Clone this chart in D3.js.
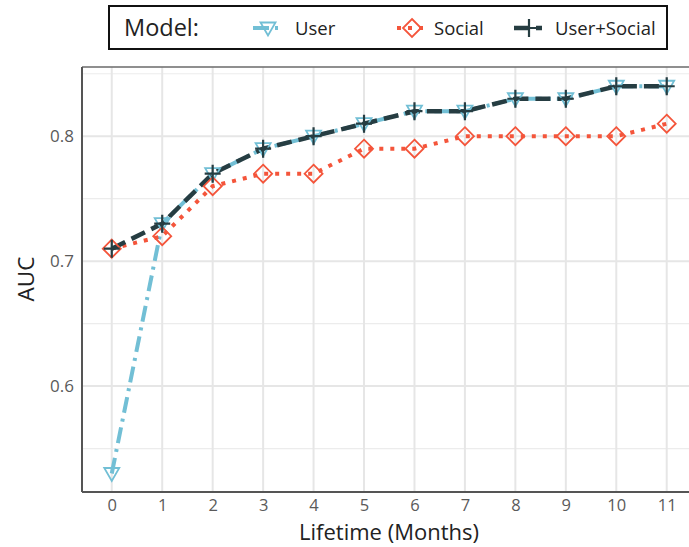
<!DOCTYPE html>
<html><head><meta charset="utf-8">
<script src="https://cdn.jsdelivr.net/npm/d3@7"></script>
<style>body{margin:0;background:#fff}svg{display:block;font-family:"Open Sans","Noto Sans",sans-serif}</style>
</head><body>
<svg id="c" width="689" height="547"></svg>
<script>
const months = [0,1,2,3,4,5,6,7,8,9,10,11];
const userAUC = [0.53,0.73,0.77,0.79,0.80,0.81,0.82,0.82,0.83,0.83,0.84,0.84];
const socialAUC = [0.71,0.72,0.76,0.77,0.77,0.79,0.79,0.80,0.80,0.80,0.80,0.81];
const userSocialAUC = [0.71,0.73,0.77,0.79,0.80,0.81,0.82,0.82,0.83,0.83,0.84,0.84];
const yTicks = [0.6,0.7,0.8];
const yMinor = [0.55,0.65,0.75,0.85];
const seriesNames = ["User","Social","User+Social"];

const svg = d3.select("#c");
const L = 82, R = 697, T = 67, B = 492;
const x = d3.scaleLinear().domain([-0.59, 11.6]).range([L, R]);
const y = d3.scaleLinear().domain([0.5152, 0.8554]).range([B, T]);

const g = svg.append("g");
g.selectAll(".gm").data(yMinor).join("line").attr("x1",L).attr("x2",R)
 .attr("y1",d=>y(d)).attr("y2",d=>y(d)).attr("stroke","#ececec").attr("stroke-width",1.2);
g.selectAll(".gy").data(yTicks).join("line").attr("x1",L).attr("x2",R)
 .attr("y1",d=>y(d)).attr("y2",d=>y(d)).attr("stroke","#e6e6e6").attr("stroke-width",2);
g.selectAll(".gx").data(months).join("line").attr("y1",T).attr("y2",B)
 .attr("x1",d=>x(d)).attr("x2",d=>x(d)).attr("stroke","#e6e6e6").attr("stroke-width",2);
g.append("line").attr("x1",L).attr("x2",R).attr("y1",T).attr("y2",T).attr("stroke","#6a6a6a").attr("stroke-width",1.5);
g.append("line").attr("x1",L).attr("x2",L).attr("y1",T).attr("y2",B).attr("stroke","#555").attr("stroke-width",2);
g.append("line").attr("x1",L).attr("x2",R).attr("y1",B).attr("y2",B).attr("stroke","#555").attr("stroke-width",2);

const xa = svg.append("g").attr("transform",`translate(0,${B})`)
  .call(d3.axisBottom(x).tickValues(months).tickSize(0).tickPadding(7));
xa.select(".domain").remove();
xa.selectAll("text").attr("font-size",16.5).attr("fill","#5a5a5a").attr("font-family","Open Sans");
const ya = svg.append("g").attr("transform",`translate(${L},0)`)
  .call(d3.axisLeft(y).tickValues(yTicks).tickSize(0).tickPadding(8).tickFormat(d3.format(".1f")));
ya.select(".domain").remove();
ya.selectAll("text").attr("font-size",17).attr("fill","#5a5a5a").attr("font-family","Open Sans");

svg.append("text").attr("x",389).attr("y",540).attr("text-anchor","middle")
  .attr("font-size",22).attr("fill","#222").text("Lifetime (Months)");
svg.append("text").attr("transform","translate(34,279) rotate(-90)").attr("text-anchor","middle")
  .attr("font-size",22.5).attr("fill","#222").text("AUC");

const colors = {"User":"#72bfd5","Social":"#f4553b","User+Social":"#263d42"};
const dashes = {"User":"16,6,3,6","Social":"4,7","User+Social":"15,7"};
const widths = {"User":4,"Social":4,"User+Social":4.5};
const dataMap = {"User":userAUC,"Social":socialAUC,"User+Social":userSocialAUC};
const line = d3.line().x((d,i)=>x(months[i])).y(d=>y(d));

function marker(sel, name, cx, cy){
  const c = colors[name];
  if(name==="User"){
    sel.append("path").attr("d",`M${cx-7.5},${cy-5.5}L${cx+7.5},${cy-5.5}L${cx},${cy+7.5}Z`)
      .attr("fill","none").attr("stroke",c).attr("stroke-width",1.8);
  } else if(name==="Social"){
    sel.append("path").attr("d",`M${cx},${cy-9}L${cx+9},${cy}L${cx},${cy+9}L${cx-9},${cy}Z`)
      .attr("fill","none").attr("stroke",c).attr("stroke-width",1.8);
  } else {
    sel.append("path").attr("d",`M${cx-8},${cy}L${cx+8},${cy}M${cx},${cy-9}L${cx},${cy+9}`)
      .attr("fill","none").attr("stroke",c).attr("stroke-width",2.2);
  }
}

const plotOrder = ["User","Social","User+Social"];
plotOrder.forEach(name=>{
  svg.append("path").datum(dataMap[name]).attr("d",line).attr("fill","none")
    .attr("stroke",colors[name]).attr("stroke-width",widths[name])
    .attr("stroke-dasharray",dashes[name]);
});
plotOrder.forEach(name=>{
  const gm = svg.append("g");
  dataMap[name].forEach((v,i)=>marker(gm,name,x(months[i]),y(v)));
});

svg.append("rect").attr("x",109).attr("y",6).attr("width",558).attr("height",43)
  .attr("fill","#fff").attr("stroke","#111").attr("stroke-width",2);
svg.append("text").attr("x",124).attr("y",35.5).attr("font-size",23.5).attr("fill","#222").text("Model:");
const lx = {"User":253,"Social":397,"User+Social":514};
const tx = {"User":295,"Social":434,"User+Social":555};
seriesNames.forEach(name=>{
  const cx = lx[name]+15, cy = 28;
  svg.append("line").attr("x1",lx[name]).attr("x2",lx[name]+28).attr("y1",cy).attr("y2",cy)
    .attr("stroke",colors[name]).attr("stroke-width",widths[name])
    .attr("stroke-dasharray",dashes[name]);
  marker(svg,name,cx,cy);
  svg.append("text").attr("x",tx[name]).attr("y",34.5).attr("font-size",18.5).attr("fill","#222").text(name);
});
</script>
</body></html>
